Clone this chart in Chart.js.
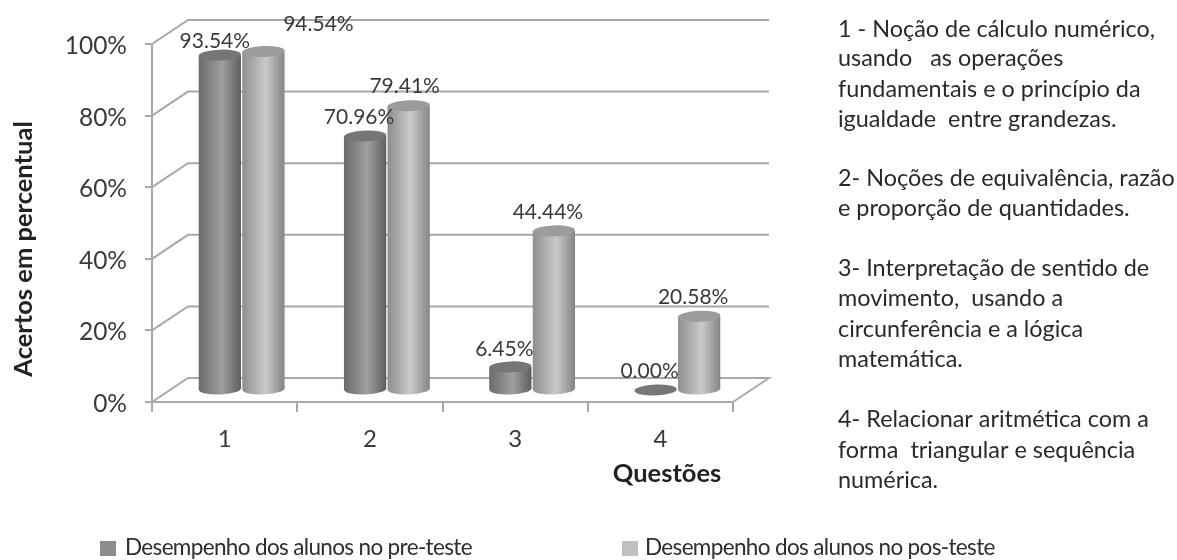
<!DOCTYPE html>
<html lang="pt">
<head>
<meta charset="utf-8">
<style>
  html, body { margin: 0; padding: 0; background: #fff; }
  #wrap { width: 1177px; height: 560px; }
</style>
<script src="https://cdn.jsdelivr.net/npm/chart.js@4"></script>
</head>
<body>
<div id="wrap"><canvas id="chart" width="1177" height="560"></canvas></div>
<script>
// Percentual de acertos por questão
const categories = ['1', '2', '3', '4'];
const preTeste = [93.54, 70.96, 6.45, 0.00];
const posTeste = [94.54, 79.41, 44.44, 20.58];
const preLabel = 'Desempenho dos alunos no pre-teste';
const posLabel = 'Desempenho dos alunos no pos-teste';
const yTitle = 'Acertos em percentual';
const xTitle = 'Questões';
const questionNotes = [
  ['1 - Noção de cálculo numérico,', 29],
  ['usando   as operações', 58],
  ['fundamentais e o princípio da', 89],
  ['igualdade  entre grandezas.', 119],
  ['2- Noções de equivalência, razão', 178],
  ['e proporção de quantidades.', 208],
  ['3- Interpretação de sentido de', 268],
  ['movimento,  usando a', 298],
  ['circunferência e a lógica', 329],
  ['matemática.', 359],
  ['4- Relacionar aritmética com a', 419],
  ['forma  triangular e sequência', 450],
  ['numérica.', 480]
];

// Deslocamento de profundidade do gráfico em perspectiva
const FONT = 'Lato, "Open Sans", sans-serif';
const GRID = '#a8a8a8';
const DEPTH_X = 36, DEPTH_Y = 24;
const BAR_DX = 17, BAR_DY = 12, CAP_RY = 5.5;
// Ajuste dos rótulos em relação ao topo de cada coluna [dx, dy]
const preNudge = [[-5, -14], [-6, -19], [-6, -18], [-6, -19]];
const posNudge = [[55, -27], [-4, -19], [-6, -19], [-6, -19]];

const styles = [
  { stops: ['#6b6b6b', '#9f9f9f', '#5e5e5e'], cap: '#767676' },
  { stops: ['#8e8e8e', '#cacaca', '#858585'], cap: '#9c9c9c' }
];

function ellipse(ctx, x, y, rx, ry, fill) {
  ctx.beginPath();
  ctx.ellipse(x, y, rx, ry, -0.04, 0, Math.PI * 2);
  ctx.fillStyle = fill;
  ctx.fill();
}

function barGradient(ctx, bar, style) {
  const half = bar.width / 2;
  const g = ctx.createLinearGradient(bar.x - half, 0, bar.x + half, 0);
  g.addColorStop(0, style.stops[0]);
  g.addColorStop(0.55, style.stops[1]);
  g.addColorStop(1, style.stops[2]);
  return g;
}

// Paredes e piso em perspectiva, atrás das colunas
const wallsPlugin = {
  id: 'walls',
  beforeDatasetsDraw(chart) {
    const { ctx, chartArea: a, scales: { y } } = chart;
    ctx.save();
    ctx.strokeStyle = GRID;
    ctx.lineWidth = 2;
    y.ticks.forEach(t => {
      const py = y.getPixelForValue(t.value);
      ctx.beginPath();
      ctx.moveTo(a.left, py);
      ctx.lineTo(a.left + DEPTH_X, py - DEPTH_Y);
      ctx.lineTo(a.right + DEPTH_X, py - DEPTH_Y);
      if (t.value === 0) ctx.lineTo(a.right, py);
      ctx.stroke();
    });
    ctx.restore();
  }
};

// Colunas cilíndricas: base antes da barra, tampa depois
const cylinderPlugin = {
  id: 'cylinder',
  beforeDatasetDraw(chart, args) {
    const { ctx } = chart;
    const style = styles[args.index];
    ctx.save();
    ctx.translate(BAR_DX, -BAR_DY);
    args.meta.data.forEach(bar => {
      const rx = bar.width / 2;
      if (bar.base - bar.y > 0.5) ellipse(ctx, bar.x, bar.base, rx, CAP_RY, barGradient(ctx, bar, style));
      bar.options = Object.assign({}, bar.options, { backgroundColor: barGradient(ctx, bar, style) });
    });
  },
  afterDatasetDraw(chart, args) {
    const { ctx } = chart;
    const style = styles[args.index];
    args.meta.data.forEach(bar => ellipse(ctx, bar.x, bar.y, bar.width / 2, CAP_RY, style.cap));
    ctx.restore();
  }
};

// Rótulos de valor, títulos dos eixos, legenda e notas das questões
const textPlugin = {
  id: 'texts',
  afterDraw(chart) {
    const { ctx } = chart;
    ctx.save();
    ctx.textBaseline = 'middle';

    ctx.font = '21px ' + FONT;
    ctx.fillStyle = '#3a3a3a';
    ctx.textAlign = 'center';
    [preNudge, posNudge].forEach((nudge, d) => {
      const meta = chart.getDatasetMeta(d);
      const values = chart.data.datasets[d].data;
      meta.data.forEach((bar, i) => {
        ctx.fillText(values[i].toFixed(2) + '%',
          bar.x + BAR_DX + nudge[i][0], bar.y - BAR_DY + nudge[i][1]);
      });
    });

    ctx.font = 'bold 25.5px ' + FONT;
    ctx.fillStyle = '#222';
    ctx.fillText(xTitle, 667, 474);
    ctx.save();
    ctx.translate(24, 249);
    ctx.rotate(-Math.PI / 2);
    ctx.fillText(yTitle, 0, 0);
    ctx.restore();

    ctx.textAlign = 'left';
    ctx.font = '23.4px ' + FONT;
    ctx.fillStyle = '#2a2a2a';
    questionNotes.forEach(([line, y]) => ctx.fillText(line, 838, y));

    ctx.font = '22.5px ' + FONT;
    ctx.letterSpacing = '-0.65px';
    [[100, 125], [622, 645]].forEach(([bx, tx], d) => {
      const ds = chart.data.datasets[d];
      ctx.fillStyle = ds.backgroundColor;
      ctx.fillRect(bx, 541, 16, 15);
      ctx.fillStyle = '#2e2e2e';
      ctx.fillText(ds.label, tx, 548);
    });
    ctx.letterSpacing = '0px';
    ctx.restore();
  }
};

new Chart(document.getElementById('chart'), {
  type: 'bar',
  data: {
    labels: categories,
    datasets: [
      { label: preLabel, data: preTeste, backgroundColor: '#8c8c8c', borderWidth: 0, clip: false },
      { label: posLabel, data: posTeste, backgroundColor: '#c0c0c0', borderWidth: 0, clip: false }
    ]
  },
  plugins: [wallsPlugin, cylinderPlugin, textPlugin],
  options: {
    responsive: false,
    animation: false,
    layout: { padding: { top: 44, right: 444, bottom: 0, left: 0 } },
    datasets: { bar: { categoryPercentage: 0.6, barPercentage: 0.97 } },
    plugins: { legend: { display: false }, tooltip: { enabled: false } },
    scales: {
      x: {
        afterFit(scale) { scale.height = 158; },
        grid: { drawOnChartArea: false, color: GRID, lineWidth: 2, tickLength: 10 },
        border: { color: GRID, width: 2 },
        ticks: { color: '#3a3a3a', font: { family: FONT, size: 24 }, padding: 13 }
      },
      y: {
        min: 0,
        max: 100,
        afterFit(scale) { scale.width = 152; },
        grid: { drawOnChartArea: false, color: GRID, lineWidth: 2, tickLength: 7 },
        border: { color: GRID, width: 2 },
        ticks: {
          stepSize: 20,
          color: '#3a3a3a',
          font: { family: FONT, size: 24.5 },
          padding: 18,
          labelOffset: 2,
          callback: v => v + '%'
        }
      }
    }
  }
});
</script>
</body>
</html>
